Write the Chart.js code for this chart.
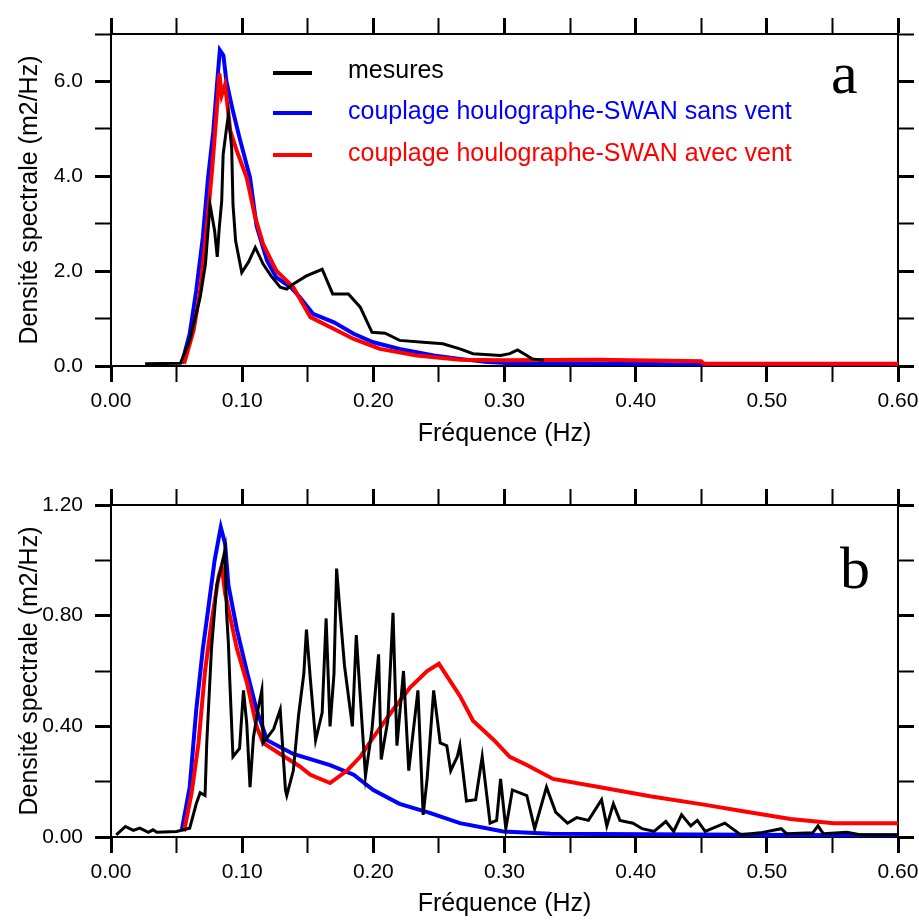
<!DOCTYPE html>
<html lang="fr">
<head>
<meta charset="UTF-8">
<title>Densité spectrale</title>
<script src="https://cdn.jsdelivr.net/npm/chart.js@4"></script>
<style>
  body { margin: 0; background: #fff; }
  #wrap { position: relative; width: 919px; height: 923px; font-family: Arial, "Liberation Sans", sans-serif; overflow: hidden; }
  canvas { position: absolute; left: 0; }
  #chartA { top: 0; }
  #chartB { top: 460px; }
  .swatch { position: absolute; left: 273px; width: 39px; height: 4px; }
  .lbl { position: absolute; left: 348px; font-size: 25px; line-height: 30px; white-space: nowrap; }
  .panel { position: absolute; font-family: "Liberation Serif", "Times New Roman", serif; font-size: 60px; line-height: 72px; color: #000; }
</style>
</head>
<body>
<div id="wrap">
  <canvas id="chartA" width="919" height="460"></canvas>
  <canvas id="chartB" width="919" height="463"></canvas>
  <div id="legend"></div>
  <div class="panel" style="left:831px; top:37px;">a</div>
  <div class="panel" style="left:840px; top:532px;">b</div>
</div>
<script>
// series names and colours
const seriesNames = ['mesures', 'couplage houlographe-SWAN sans vent', 'couplage houlographe-SWAN avec vent'];
const seriesColors = ['#000000', '#0000ff', '#ff0000'];

// panel a - mesures
const freqMesA = [0.026, 0.053, 0.060, 0.068, 0.072, 0.0755, 0.079, 0.081, 0.0825, 0.0844, 0.0855, 0.088, 0.0895, 0.092, 0.093, 0.095, 0.0997, 0.105, 0.110, 0.116, 0.122, 0.129, 0.134, 0.139, 0.149, 0.161, 0.169, 0.181, 0.190, 0.199, 0.209, 0.220, 0.238, 0.253, 0.266, 0.276, 0.297, 0.304, 0.310, 0.317, 0.321, 0.330];
const valMesA  = [0.05, 0.06, 0.54, 1.45, 2.15, 3.40, 2.85, 2.30, 2.90, 3.48, 4.46, 5.00, 5.30, 4.60, 3.41, 2.64, 1.97, 2.20, 2.50, 2.15, 1.90, 1.66, 1.62, 1.73, 1.90, 2.04, 1.52, 1.52, 1.24, 0.71, 0.69, 0.54, 0.50, 0.47, 0.36, 0.26, 0.22, 0.26, 0.34, 0.22, 0.15, 0.12];

// panel a - sans vent
const freqSansA = [0.054, 0.060, 0.065, 0.070, 0.074, 0.078, 0.0814, 0.083, 0.0857, 0.088, 0.093, 0.098, 0.106, 0.111, 0.119, 0.126, 0.137, 0.144, 0.154, 0.170, 0.185, 0.200, 0.220, 0.246, 0.266, 0.285, 0.304, 0.337, 0.409, 0.449, 0.600];
const valSansA  = [0.05, 0.68, 1.59, 2.71, 3.97, 4.95, 6.14, 6.66, 6.55, 6.00, 5.37, 4.81, 3.97, 2.95, 2.22, 1.87, 1.66, 1.45, 1.10, 0.92, 0.68, 0.50, 0.36, 0.22, 0.15, 0.09, 0.06, 0.06, 0.05, 0.02, 0.02];

// panel a - avec vent
const freqAvecA = [0.0557, 0.063, 0.068, 0.073, 0.077, 0.0806, 0.0826, 0.0844, 0.087, 0.091, 0.096, 0.1035, 0.110, 0.116, 0.126, 0.139, 0.152, 0.170, 0.185, 0.205, 0.233, 0.266, 0.299, 0.370, 0.450, 0.452, 0.600];
const valAvecA  = [0.05, 0.75, 1.59, 2.92, 4.11, 5.37, 6.17, 5.71, 5.93, 4.95, 4.53, 3.97, 3.13, 2.57, 2.01, 1.66, 1.03, 0.78, 0.57, 0.36, 0.22, 0.13, 0.12, 0.13, 0.10, 0.05, 0.05];

// panel b - mesures
const freqMesB = [0.004, 0.011, 0.017, 0.022, 0.0285, 0.032, 0.035, 0.050, 0.060, 0.065, 0.068, 0.0717, 0.073, 0.0766, 0.0806, 0.0844, 0.087, 0.088, 0.0895, 0.0906, 0.093, 0.098, 0.101, 0.1035, 0.106, 0.1086, 0.112, 0.115, 0.116, 0.124, 0.129, 0.133, 0.134, 0.139, 0.143, 0.147, 0.149, 0.152, 0.156, 0.161, 0.164, 0.167, 0.170, 0.172, 0.175, 0.178, 0.184, 0.187, 0.190, 0.194, 0.199, 0.204, 0.206, 0.211, 0.215, 0.218, 0.223, 0.227, 0.234, 0.238, 0.241, 0.246, 0.251, 0.256, 0.259, 0.264, 0.266, 0.271, 0.278, 0.283, 0.289, 0.294, 0.297, 0.301, 0.306, 0.317, 0.323, 0.332, 0.339, 0.348, 0.355, 0.364, 0.374, 0.378, 0.383, 0.388, 0.398, 0.405, 0.414, 0.423, 0.429, 0.435, 0.442, 0.447, 0.453, 0.468, 0.480, 0.495, 0.511, 0.515, 0.535, 0.539, 0.543, 0.561, 0.571, 0.600];
const valMesB  = [0.008, 0.038, 0.024, 0.032, 0.017, 0.026, 0.017, 0.020, 0.032, 0.12, 0.16, 0.15, 0.34, 0.68, 0.91, 0.98, 1.04, 0.82, 0.70, 0.56, 0.29, 0.32, 0.53, 0.41, 0.18, 0.36, 0.46, 0.53, 0.34, 0.39, 0.46, 0.17, 0.15, 0.24, 0.44, 0.59, 0.75, 0.57, 0.35, 0.45, 0.79, 0.40, 0.59, 0.97, 0.79, 0.62, 0.40, 0.73, 0.51, 0.22, 0.39, 0.66, 0.28, 0.42, 0.81, 0.33, 0.60, 0.24, 0.53, 0.08, 0.21, 0.53, 0.34, 0.33, 0.24, 0.29, 0.33, 0.13, 0.135, 0.29, 0.05, 0.06, 0.21, 0.03, 0.17, 0.15, 0.03, 0.18, 0.09, 0.05, 0.07, 0.06, 0.135, 0.04, 0.12, 0.06, 0.05, 0.03, 0.02, 0.056, 0.02, 0.08, 0.04, 0.06, 0.02, 0.05, 0.008, 0.015, 0.03, 0.012, 0.015, 0.04, 0.012, 0.017, 0.008, 0.008];

// panel b - sans vent
const freqSansB = [0.054, 0.060, 0.065, 0.070, 0.074, 0.079, 0.0837, 0.087, 0.0895, 0.096, 0.1035, 0.111, 0.119, 0.131, 0.139, 0.167, 0.185, 0.200, 0.220, 0.243, 0.266, 0.299, 0.335, 0.600];
const valSansB  = [0.026, 0.18, 0.46, 0.68, 0.82, 1.00, 1.12, 1.06, 0.91, 0.75, 0.60, 0.46, 0.35, 0.32, 0.30, 0.26, 0.225, 0.17, 0.12, 0.087, 0.05, 0.02, 0.012, 0.005];

// panel b - avec vent
const freqAvecB = [0.0557, 0.0615, 0.0667, 0.0717, 0.077, 0.082, 0.0844, 0.087, 0.0906, 0.096, 0.1035, 0.111, 0.116, 0.129, 0.144, 0.152, 0.167, 0.180, 0.190, 0.200, 0.215, 0.228, 0.241, 0.250, 0.266, 0.276, 0.292, 0.304, 0.317, 0.337, 0.373, 0.411, 0.452, 0.482, 0.518, 0.551, 0.600];
const valAvecB  = [0.02, 0.16, 0.34, 0.60, 0.79, 0.94, 0.98, 0.88, 0.80, 0.68, 0.56, 0.40, 0.34, 0.30, 0.255, 0.225, 0.195, 0.24, 0.29, 0.36, 0.46, 0.54, 0.60, 0.626, 0.51, 0.42, 0.35, 0.29, 0.26, 0.21, 0.18, 0.147, 0.117, 0.093, 0.065, 0.05, 0.05];

// axis settings
const xMin = 0, xMax = 0.6, xStep = 0.05;
const yMaxA = 7, yStepA = 1;
const yMaxB = 1.2, yStepB = 0.2;
const xTitle = 'Fréquence (Hz)';
const yTitle = 'Densité spectrale (m2/Hz)';

function pts(fs, vs) { return fs.map((f, i) => ({ x: f, y: vs[i] })); }

const tickFont = { family: 'Arial, "Liberation Sans", sans-serif', size: 21 };
const titleFont = { family: 'Arial, "Liberation Sans", sans-serif', size: 25 };

function gridOpts(isMajor) {
  return {
    drawOnChartArea: false,
    drawTicks: true,
    tickLength: 16,
    tickColor: '#000',
    tickWidth: ctx => (ctx.tick && isMajor(ctx.tick.value)) ? 3 : 2
  };
}

// fixed box sizes so the plot area lands where the original one is
function fixH(h) { return s => { s.height = h; s.paddingLeft = 0; s.paddingRight = 0; }; }
function fixW(w) { return s => { s.width = w; s.paddingTop = 0; s.paddingBottom = 0; }; }

function makeChart(id, series, yMax, yStep, yLabel, yMajor, topH, bottomH, xTitlePad) {
  const xMajor = v => Math.round(v * 100) % 10 === 0;
  const datasets = series.map((s, i) => ({
    label: seriesNames[i],
    data: s,
    borderColor: seriesColors[i],
    borderWidth: i === 0 ? 3 : 4,
    pointRadius: 0,
    tension: 0,
    fill: false,
    order: [0, 2, 1][i]
  }));
  return new Chart(document.getElementById(id), {
    type: 'line',
    data: { datasets: datasets },
    options: {
      responsive: false,
      animation: false,
      devicePixelRatio: 1,
      layout: { padding: 0 },
      plugins: { legend: { display: false }, tooltip: { enabled: false } },
      scales: {
        x: {
          type: 'linear', position: 'bottom', min: xMin, max: xMax,
          ticks: { stepSize: xStep, autoSkip: false, maxRotation: 0, padding: 7, color: '#000', font: tickFont,
                   callback: v => xMajor(v) ? v.toFixed(2) : '' },
          grid: gridOpts(xMajor),
          border: { color: '#000', width: 2 },
          title: { display: true, text: xTitle, color: '#000', font: titleFont, padding: { top: 0, bottom: xTitlePad } },
          afterFit: fixH(bottomH)
        },
        x2: {
          type: 'linear', position: 'top', min: xMin, max: xMax,
          ticks: { stepSize: xStep, autoSkip: false, display: false },
          grid: gridOpts(xMajor),
          border: { color: '#000', width: 2 },
          afterFit: fixH(topH)
        },
        y: {
          type: 'linear', position: 'left', min: 0, max: yMax,
          ticks: { stepSize: yStep, autoSkip: false, padding: 12, color: '#000', font: tickFont,
                   callback: v => yMajor(v) ? yLabel(v) : '' },
          grid: gridOpts(yMajor),
          border: { color: '#000', width: 2 },
          title: { display: true, text: yTitle, color: '#000', font: titleFont, padding: { top: 15, bottom: 0 } },
          afterFit: fixW(111)
        },
        y2: {
          type: 'linear', position: 'right', min: 0, max: yMax,
          ticks: { stepSize: yStep, autoSkip: false, display: false },
          grid: gridOpts(yMajor),
          border: { color: '#000', width: 2 },
          afterFit: fixW(21)
        }
      }
    }
  });
}

makeChart('chartA',
  [pts(freqMesA, valMesA), pts(freqSansA, valSansA), pts(freqAvecA, valAvecA)],
  yMaxA, yStepA, v => v.toFixed(1), v => Math.round(v) % 2 === 0, 34, 94, 11);

makeChart('chartB',
  [pts(freqMesB, valMesB), pts(freqSansB, valSansB), pts(freqAvecB, valAvecB)],
  yMaxB, yStepB, v => v.toFixed(2), v => Math.round(v * 10) % 4 === 0, 45, 86, 4);

// legend (panel a)
const legend = document.getElementById('legend');
const rowTops = [54, 95, 137];
const swTops = [71, 111, 153];
seriesNames.forEach((name, i) => {
  const sw = document.createElement('div');
  sw.className = 'swatch';
  sw.style.top = swTops[i] + 'px';
  sw.style.background = seriesColors[i];
  legend.appendChild(sw);
  const t = document.createElement('div');
  t.className = 'lbl';
  t.style.top = rowTops[i] + 'px';
  t.style.color = seriesColors[i];
  t.textContent = name;
  legend.appendChild(t);
});
</script>
</body>
</html>
